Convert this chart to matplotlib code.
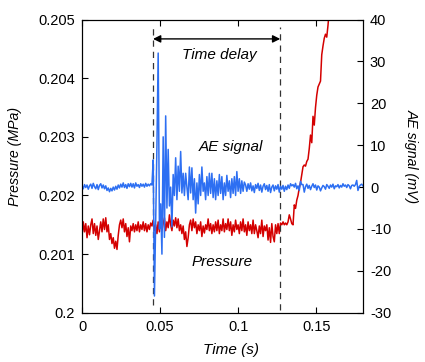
import numpy as np
import matplotlib
matplotlib.use("Agg")
import matplotlib.pyplot as plt

plt.rcParams['font.family'] = ['Liberation Sans', 'DejaVu Sans']
plt.rcParams['axes.unicode_minus'] = False

# sampling interval (s)
dt = 0.0008

# AE signal (mV)
ae_signal = [
    0.4, -0.4, 0.6, -0.1, 0.5, -0.5, 0.3, 0.7, -0.3, 0.9,
    0.1, -0.4, 0.6, -0.6, 0.4, 0.8, -0.2, 0.5, -0.4, 0.3,
    -0.8, -0.2, -1.1, -0.3, -0.9, 0.0, -0.7, 0.2, -0.5, 0.5,
    -0.2, 0.7, 0.0, 1.0, -0.1, 0.6, -0.3, 0.8, 0.1, 0.9,
    0.0, 0.8, -0.2, 1.0, 0.2, 0.6, -0.1, 0.8, 0.2, 0.7,
    0.0, 0.9, 0.2, 0.7, 0.3, 0.8, 0.5,
    6.5, -26, -8, 10, 32, -10, -4, -16, 12, -12,
    17, -5, 9, -4.5, 0, -9.5, 3, -2, 7, -3,
    5, -1, 8.5, -1.4, 3.3, -2, 3.3, 0, -3, 4.8,
    -1.4, 4.6, -3, 2, -6.2, 1, -4, 3, -2, 4.8,
    -1, 1, -3, 2.5, -2, 3.3, -1.5, 3.3, -2.5, 2,
    -3, 1.5, -2, 3, -1.5, 2.5, -3, 1, -2, 2.8,
    -1, 1.5, -2.5, 2, -1.5, 2.5, -2, 3.7, -1, 2,
    -1.5, 1.5, -1, 1.2,
    0.5, -1.0, 0.8, -0.5, 1.0, -0.9, 0.3, -1.3, 0.6, -0.3,
    0.9, -0.8, 0.5, -1.2, 0.2, 0.8, -0.6, 0.4, -1.0, 0.6,
    -1.3, 0.0, 0.5, -0.9, 0.3, -0.5, 0.6, -1.2, 0.2,
    -0.5, 0.4, -1.0, 0.2, -0.6, 0.5, -0.3, 0.8, 0.3, 0.6,
    0.0, 0.9, -0.4, 0.3, -0.8, 1.4, 0.6, 0.6, -1.2, 0.1,
    0.7, -0.3, 0.4, -0.6, 0.2, 0.8, -0.1, 0.5, -0.7, 0.3,
    0.0, -0.9, -0.2, 0.4, 0.1, -0.5, 0.6, 0.2, -0.3, 0.5,
    0.0, 0.7, -0.4, 0.3, 0.1, 0.6, -0.2, 0.4, 0.0, 0.8,
    0.2, 0.5, -0.1, 0.6, 0.3, -0.4, 0.4, 0.5, 0.2, 0.6,
    1.6, -0.8, 0.1, 0.5, 0.7, 0.3,
]

# Pressure (MPa)
pressure = [
    0.20130, 0.20155, 0.20138, 0.20152, 0.20128, 0.20148, 0.20133, 0.20150, 0.20160, 0.20135,
    0.20152, 0.20132, 0.20148, 0.20125, 0.20140, 0.20155, 0.20138, 0.20160, 0.20142, 0.20162,
    0.20138, 0.20150, 0.20125, 0.20135, 0.20118, 0.20128, 0.20110, 0.20122, 0.20108, 0.20132,
    0.20150, 0.20158, 0.20145, 0.20160, 0.20138, 0.20152, 0.20130, 0.20145, 0.20121, 0.20148,
    0.20140, 0.20152, 0.20138, 0.20150, 0.20140, 0.20155, 0.20138, 0.20150, 0.20142, 0.20155,
    0.20140, 0.20152, 0.20138, 0.20150, 0.20142, 0.20153, 0.20148,
    0.20158, 0.20140, 0.20150, 0.20135, 0.20155, 0.20138, 0.20160, 0.20140, 0.20152, 0.20162,
    0.20140, 0.20155, 0.20145, 0.20167, 0.20150, 0.20140, 0.20158, 0.20148, 0.20162, 0.20145,
    0.20160, 0.20140, 0.20150, 0.20135, 0.20148, 0.20125, 0.20138, 0.20113, 0.20128, 0.20150,
    0.20158, 0.20140, 0.20160, 0.20145, 0.20155, 0.20135, 0.20150, 0.20140, 0.20155, 0.20130,
    0.20148, 0.20136, 0.20150, 0.20142,
    0.20160, 0.20140, 0.20152, 0.20135, 0.20150, 0.20138, 0.20155, 0.20140, 0.20158, 0.20135,
    0.20150, 0.20140, 0.20160, 0.20138, 0.20152, 0.20142, 0.20160, 0.20140, 0.20155, 0.20132,
    0.20150, 0.20138, 0.20158, 0.20142, 0.20150, 0.20135, 0.20155, 0.20140, 0.20160, 0.20138,
    0.20150, 0.20132, 0.20155, 0.20140, 0.20150, 0.20135, 0.20158, 0.20135, 0.20150, 0.20140,
    0.20128, 0.20148, 0.20135, 0.20158, 0.20130, 0.20148, 0.20140, 0.20150, 0.20124, 0.20145,
    0.20120, 0.20152, 0.20130, 0.20121, 0.20150, 0.20135, 0.20152, 0.20135, 0.20153,
    0.20150, 0.20155, 0.20150, 0.20153, 0.20150, 0.20155, 0.20167, 0.20160, 0.20152, 0.20150,
    0.20184, 0.20178, 0.20192, 0.20200, 0.20213, 0.20222, 0.20235, 0.20249, 0.20252, 0.20250,
    0.20258, 0.20262, 0.20280, 0.20303, 0.20290, 0.20335, 0.20320, 0.20350, 0.20371, 0.20385,
    0.20390, 0.20395, 0.20440, 0.20455, 0.20468, 0.20475, 0.20470, 0.20490, 0.20515, 0.20535,
]

delay_start = 0.0455
delay_end = 0.127

x_ticks = [0, 0.05, 0.1, 0.15]
x_ticklabels = ['0', '0.05', '0.1', '0.15']
p_ticks = [0.2, 0.201, 0.202, 0.203, 0.204, 0.205]
p_ticklabels = ['0.2', '0.201', '0.202', '0.203', '0.204', '0.205']
ae_ticks = [-30, -20, -10, 0, 10, 20, 30, 40]

t_ae = np.arange(len(ae_signal)) * dt
t_p = np.arange(len(pressure)) * dt

fig = plt.figure(figsize=(4.25, 3.62), dpi=100)
ax = fig.add_axes([0.193, 0.136, 0.661, 0.81])
ax2 = ax.twinx()

ax.plot(t_p, pressure, color='#d40000', lw=1.1)
ax2.plot(t_ae, ae_signal, color='#2d6ff2', lw=1.1)

ax.set_xlim(0, 0.18)
ax.set_ylim(0.2, 0.205)
ax2.set_ylim(-30, 40)

ax.set_xticks(x_ticks)
ax.set_xticklabels(x_ticklabels)
ax.set_yticks(p_ticks)
ax.set_yticklabels(p_ticklabels)
ax2.set_yticks(ae_ticks)

ax.tick_params(direction='in', top=True, right=False, length=4, width=0.8,
               labelsize=10.5, pad=5)
ax2.tick_params(direction='in', length=4, width=0.8, labelsize=10.5, pad=5)

ax.set_xlabel('Time (s)', fontsize=11, style='italic')
ax.xaxis.set_label_coords(0.53, -0.103)
ax.set_ylabel('Pressure (MPa)', fontsize=10.2, style='italic')
ax.yaxis.set_label_coords(-0.213, 0.534)
ax2.set_ylabel('AE signal (mV)', fontsize=10.2, style='italic', rotation=270, va='center')
ax2.yaxis.set_label_coords(1.175, 0.534)

# time-delay markers
ax.axvline(delay_start, ymin=0.025, ymax=0.975, color='#333333', lw=0.9, ls=(0, (5, 4)))
ax.axvline(delay_end, ymin=0.01, ymax=0.975, color='#333333', lw=0.9, ls=(0, (5, 4)))
ax.annotate('', xy=(delay_start, 0.20467), xytext=(delay_end, 0.20467),
            arrowprops=dict(arrowstyle='<|-|>', color='black', lw=1.0,
                            mutation_scale=11, shrinkA=0, shrinkB=0))

ax.text(0.0878, 0.2044, 'Time delay', fontsize=11, style='italic', ha='center', va='center')
ax.text(0.0955, 0.20283, 'AE signal', fontsize=11, style='italic', ha='center', va='center')
ax.text(0.0895, 0.20087, 'Pressure', fontsize=11, style='italic', ha='center', va='center')

fig.savefig('out.png', dpi=100)
